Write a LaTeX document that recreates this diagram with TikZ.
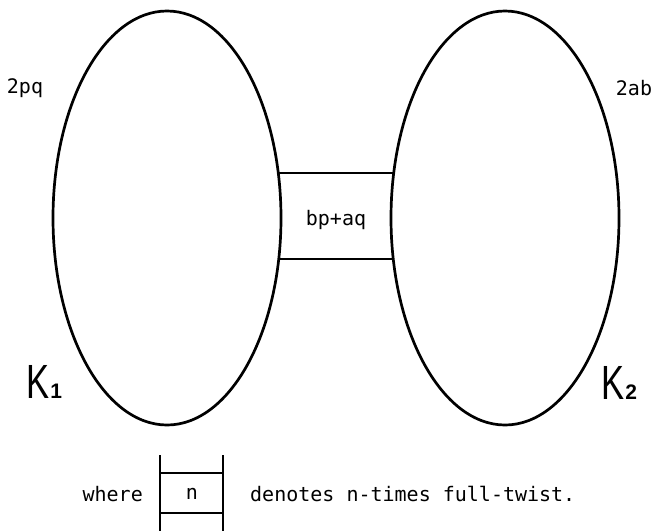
\documentclass[tikz,border=0pt]{standalone}
\usepackage{fontspec}
\usepackage{graphicx}
\setmainfont{DejaVu Sans Mono}
\newfontfamily\knotfont{Liberation Sans}
\usetikzlibrary{shapes.geometric}
\tikzset{
  knot/.style={draw, ellipse, line width=2.7pt, inner sep=0pt,
    minimum width=228pt, minimum height=414pt},
  band/.style={line width=2pt},
  twist/.style={line width=2.4pt},
  lbl/.style={inner sep=0pt, font=\fontsize{20}{20}\selectfont},
  knotname/.style={inner sep=0pt, anchor=base west}
}
\newcommand{\knotlabel}[1]{\knotfont
  \scalebox{0.72}[1]{\fontsize{48}{48}\selectfont K}%
  \kern1pt{\fontsize{21}{21}\selectfont\bfseries #1}}
\begin{document}
\begin{tikzpicture}[x=1pt, y=-1pt]
  \useasboundingbox (0,0) rectangle (652,531);

  % the two knot summands
  \node[knot] (e1) at (167,218) {};
  \node[knot] (e2) at (505,218) {};

  % twisted band joining them
  \coordinate (b1) at (278.3,173);
  \coordinate (b2) at (394.6,173);
  \coordinate (b3) at (278.7,259);
  \coordinate (b4) at (394.2,259);
  \draw[band] (b1) -- (b2);
  \draw[band] (b3) -- (b4);
  \node[lbl] (bp) at (336,220) {bp+aq};

  % twist numbers of the summands
  \node[lbl] (pq) at (25,88) {2pq};
  \node[lbl] (ab) at (634,88) {2ab};

  % knot names
  \node[knotname] (k1) at (26,398) {\knotlabel{1}};
  \node[knotname] (k2) at (601,399) {\knotlabel{2}};

  % legend: a twist box
  \coordinate (l1) at (160,455);
  \coordinate (l2) at (160,531);
  \coordinate (r1) at (223,455);
  \coordinate (r2) at (223,531);
  \coordinate (h1) at (160,473);
  \coordinate (h2) at (223,473);
  \coordinate (h3) at (160,513);
  \coordinate (h4) at (223,513);
  \draw[twist] (l1) -- (l2);
  \draw[twist] (r1) -- (r2);
  \draw[band] (h1) -- (h2);
  \draw[band] (h3) -- (h4);
  \node[lbl] (n) at (192,494) {n};
  \node[lbl, anchor=east] (where) at (143,494) {where};
  \node[lbl, anchor=west] (den) at (250,494) {denotes n-times full-twist.};
\end{tikzpicture}
\end{document}
